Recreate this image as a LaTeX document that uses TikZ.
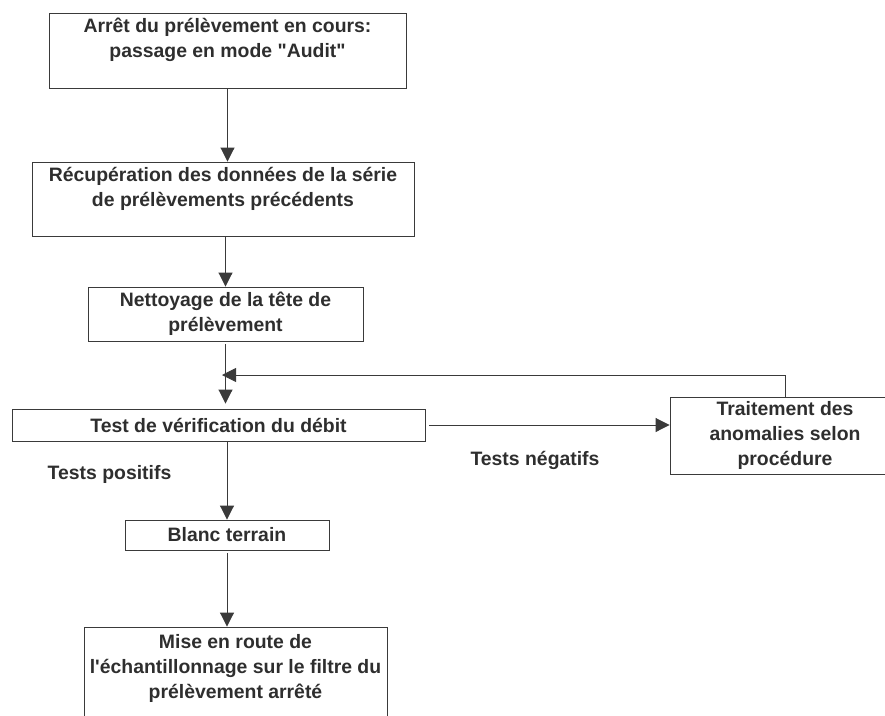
\documentclass[tikz,border=0pt]{standalone}
\usepackage{fontspec}
\setmainfont{Liberation Sans}[Ligatures=TeXOff]
\usetikzlibrary{shapes,arrows.meta,calc}
\definecolor{trait}{HTML}{3A3A3A}
\definecolor{texte}{HTML}{2E2E2E}

\begin{document}
\begin{tikzpicture}[x=1pt,y=-1pt]
    \tikzstyle{etape}=[rectangle,draw=trait,line width=0.9pt,text=texte,align=center,inner sep=0pt,font=\bfseries\fontsize{19.4}{25}\selectfont]
    \tikzstyle{legende}=[text=texte,inner sep=0pt,font=\bfseries\fontsize{19.4}{25}\selectfont]
    \tikzstyle{fleche}=[draw=trait,line width=0.9pt,-{Triangle[length=14pt,width=14pt]}]
    \useasboundingbox (0,0) rectangle (885,715);
    \clip (0,0) rectangle (885,715);
    % etapes
    \node[etape,minimum width=357pt,minimum height=75pt] (arret) at (227.5,50.5)
      {Arrêt du prélèvement en cours:\\passage en mode "Audit"\\ \mbox{}};
    \node[etape,minimum width=382pt,minimum height=74pt] (recup) at (223,199)
      {Récupération des données de la série\\de prélèvements précédents\\ \mbox{}};
    \node[etape,minimum width=275pt,minimum height=54pt] (nettoyage) at (225.5,314)
      {Nettoyage de la tête de\\prélèvement};
    \node[etape,minimum width=413pt,minimum height=32pt] (test) at (218.5,425)
      {Test de vérification du débit};
    \node[etape,minimum width=230pt,minimum height=77pt] (traitement) at (785,435.5)
      {Traitement des\\anomalies selon\\procédure};
    \node[etape,minimum width=204pt,minimum height=30pt] (blanc) at (227,535)
      {Blanc terrain};
    \node[etape,minimum width=303pt,minimum height=103pt] (miseroute) at (235.5,678.5)
      {Mise en route de\\l'échantillonnage sur le filtre du\\prélèvement arrêté\\ \mbox{}};
    % legendes
    \node[legende] (positifs) at (109.5,474) {Tests positifs};
    \node[legende] (negatifs) at (535,460) {Tests négatifs};
    % fleches
    \coordinate (jonction) at ($(nettoyage.south)!0.5!(test.north)$);
    \draw[fleche] (arret.south) -- (arret.south |- recup.north);
    \draw[fleche] (nettoyage.north |- recup.south) -- (nettoyage.north);
    \draw[fleche,shorten <=3pt,shorten >=5pt] (nettoyage.south) -- (nettoyage.south |- test.north);
    \draw[fleche] (traitement.north) |- (jonction);
    \draw[fleche,shorten <=4pt] (test.east) -- (test.east -| traitement.west);
    \draw[fleche] (test.south -| blanc.north) -- (blanc.north);
    \draw[fleche,shorten <=3pt] (blanc.south) -- (blanc.south |- miseroute.north);
\end{tikzpicture}
\end{document}
